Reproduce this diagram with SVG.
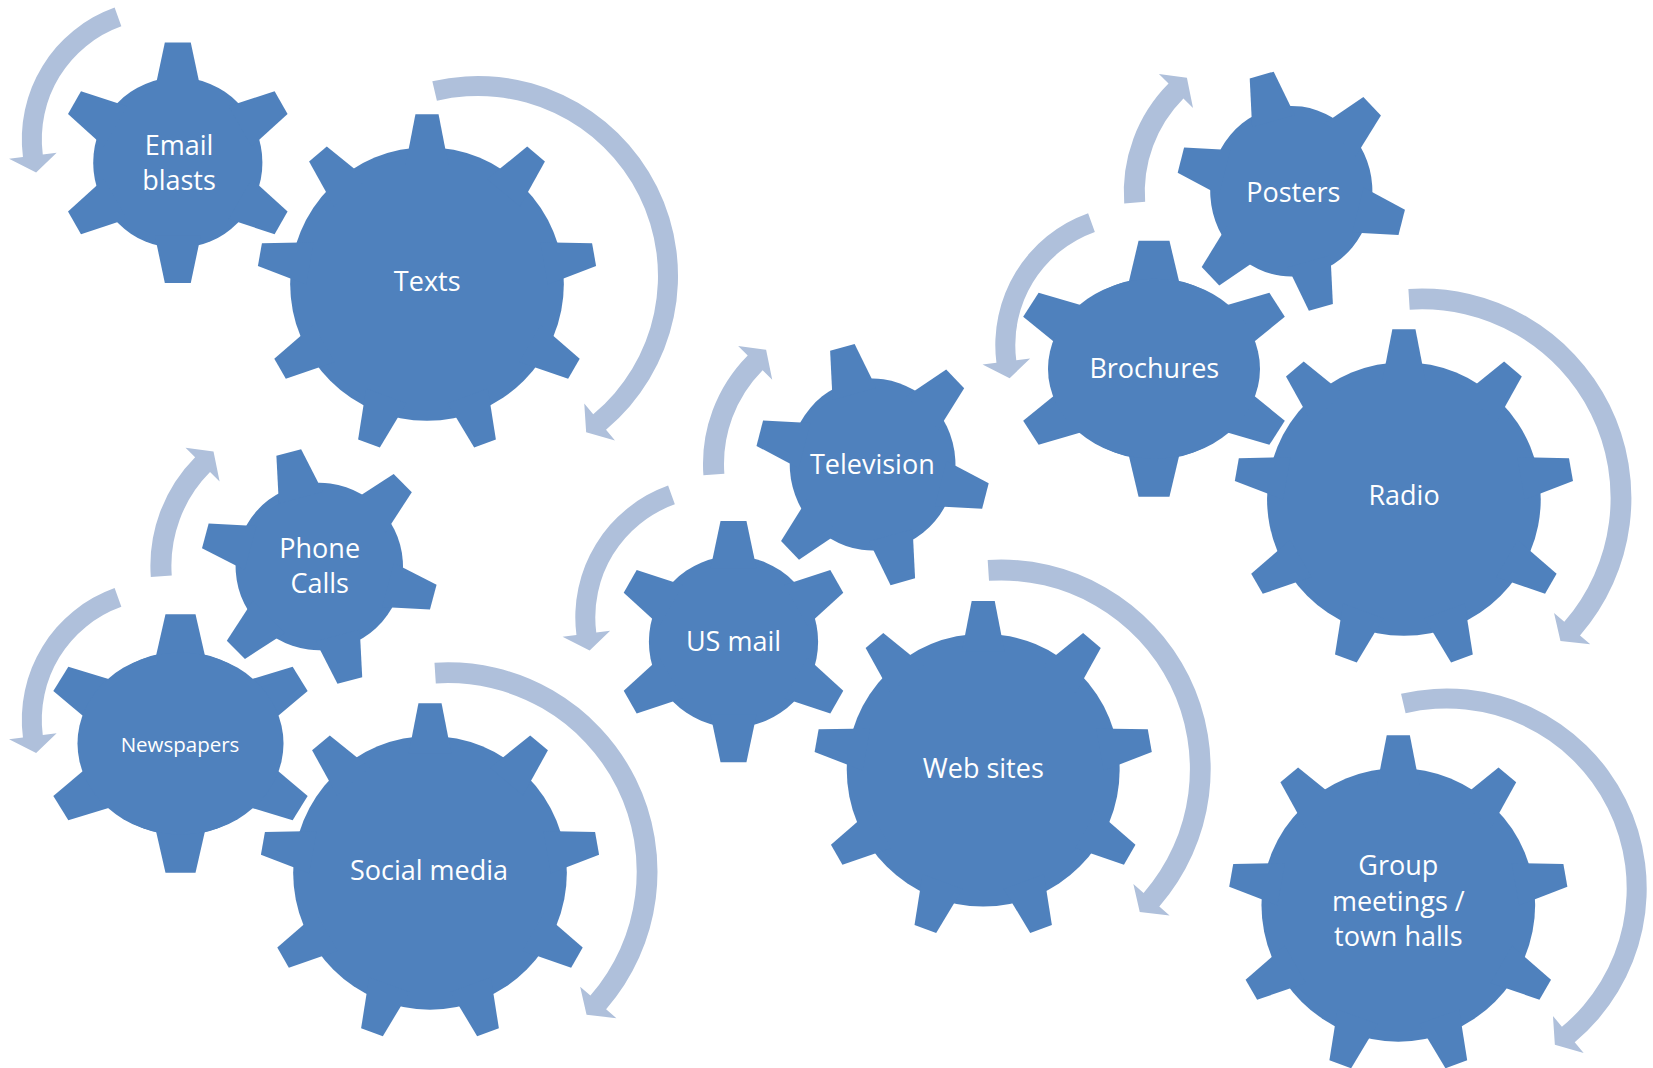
<svg xmlns="http://www.w3.org/2000/svg" width="1653" height="1068" viewBox="0 0 1653 1068">
<style>
.gear{fill:#4F81BD;stroke:none}
.halo{fill:#FFFFFF;stroke:#FFFFFF;stroke-width:3}
.arrow{fill:#AFC0DB;stroke:none}
.lbl{font-family:"Open Sans","Noto Sans","Liberation Sans",sans-serif;font-size:27px;fill:#FFFFFF;text-anchor:middle}
.sm{font-size:20.5px}
</style>
<defs>
<path id="t6" vector-effect="non-scaling-stroke" d="M-19.2,-60 L-10.8,-99.4 L10.8,-99.4 L19.2,-60Z"/>
<g id="g6">
<circle r="70.5" vector-effect="non-scaling-stroke"/>
<use href="#t6"/>
<use href="#t6" transform="rotate(60)"/>
<use href="#t6" transform="rotate(120)"/>
<use href="#t6" transform="rotate(180)"/>
<use href="#t6" transform="rotate(240)"/>
<use href="#t6" transform="rotate(300)"/>
</g>
<path id="t9" vector-effect="non-scaling-stroke" d="M-12.6,-70 L-6.8,-99.8 L6.8,-99.8 L12.6,-70Z"/>
<g id="g9">
<circle r="80.5" vector-effect="non-scaling-stroke"/>
<use href="#t9"/>
<use href="#t9" transform="rotate(40)"/>
<use href="#t9" transform="rotate(80)"/>
<use href="#t9" transform="rotate(120)"/>
<use href="#t9" transform="rotate(160)"/>
<use href="#t9" transform="rotate(200)"/>
<use href="#t9" transform="rotate(240)"/>
<use href="#t9" transform="rotate(280)"/>
<use href="#t9" transform="rotate(320)"/>
</g>
<path id="aB" d="M-13.52,-209.06 A209.5 209.5 0 0 1 158.11,137.44 L168.38,146.37 L138.56,142.98 L132.15,114.88 L142.41,123.80 A188.7 188.7 0 0 0 -12.18,-188.31 Z"/>
<path id="aT" d="M-45.67,-194.72 A200 200 0 0 1 128.02,153.66 L136.98,164.41 L108.16,156.21 L106.26,127.53 L115.22,138.29 A180 180 0 0 0 -41.10,-175.24 Z"/>
<path id="aM" d="M-47.19,-131.81 A140 140 0 0 0 -138.87,17.79 L-152.75,19.57 L-125.69,33.21 L-105.14,13.47 L-119.03,15.25 A120 120 0 0 1 -40.45,-112.98 Z"/>
<path id="aS" d="M-153.59,11.28 A154 154 0 0 1 -109.27,-108.51 L-118.85,-118.03 L-90.89,-114.26 L-84.79,-84.20 L-94.37,-93.72 A133 133 0 0 0 -132.64,9.74 Z"/>
</defs>
<rect width="1653" height="1068" fill="#FFFFFF"/>

<g id="connectors" class="arrow">
<use href="#aM" transform="translate(161.8,139.3)"/>
<use href="#aT" transform="translate(478,276)"/>
<use href="#aS" transform="translate(304.4,565.8)"/>
<use href="#aM" transform="translate(161.8,719.8)"/>
<use href="#aB" transform="translate(448,871.8)"/>
<use href="#aS" transform="translate(857,464)"/>
<use href="#aM" transform="translate(715.3,617.3)"/>
<use href="#aB" transform="translate(1001.2,769.1)"/>
<use href="#aS" transform="translate(1277.8,192.1)"/>
<use href="#aM" transform="translate(1135.3,345)"/>
<use href="#aB" transform="translate(1421.9,498)"/>
<use href="#aT" transform="translate(1446.7,888.5)"/>
</g>

<g id="node-email-blasts">
<use href="#g6" class="halo" transform="translate(177.8,162.7) scale(1.2,1.21)"/>
<use href="#g6" class="gear" transform="translate(177.8,162.7) scale(1.2,1.21)"/>
<text class="lbl" x="179" y="155">Email</text>
<text class="lbl" x="179" y="190">blasts</text>
</g>
<g id="node-newspapers">
<use href="#g6" class="halo" transform="translate(180.5,743.5) scale(1.39,1.3)"/>
<use href="#g6" class="gear" transform="translate(180.5,743.5) scale(1.39,1.3)"/>
<ellipse class="gear" cx="180.5" cy="743.5" rx="103" ry="91"/>
<text class="lbl sm" x="180" y="751.5">Newspapers</text>
</g>
<g id="node-us-mail">
<use href="#g6" class="halo" transform="translate(733.5,641.7) scale(1.2,1.214)"/>
<use href="#g6" class="gear" transform="translate(733.5,641.7) scale(1.2,1.214)"/>
<text class="lbl" x="733.5" y="650.5">US mail</text>
</g>
<g id="node-brochures">
<use href="#g6" class="halo" transform="translate(1154,368.8) scale(1.43,1.288)"/>
<use href="#g6" class="gear" transform="translate(1154,368.8) scale(1.43,1.288)"/>
<ellipse class="gear" cx="1154" cy="368.8" rx="106" ry="90"/>
<text class="lbl" x="1154.3" y="378.3">Brochures</text>
</g>
<g id="node-phone-calls">
<use href="#g6" class="halo" transform="translate(319.3,566.5) scale(1.187,1.187) rotate(-15)"/>
<use href="#g6" class="gear" transform="translate(319.3,566.5) scale(1.187,1.187) rotate(-15)"/>
<text class="lbl" x="319.7" y="558.3">Phone</text>
<text class="lbl" x="319.7" y="593.3">Calls</text>
</g>
<g id="node-television">
<use href="#g6" class="halo" transform="translate(872.6,464.6) scale(1.175,1.22) rotate(-15)"/>
<use href="#g6" class="gear" transform="translate(872.6,464.6) scale(1.175,1.22) rotate(-15)"/>
<text class="lbl" x="872.3" y="474">Television</text>
</g>
<g id="node-posters">
<use href="#g6" class="halo" transform="translate(1291.3,191.2) scale(1.15,1.21) rotate(-15)"/>
<use href="#g6" class="gear" transform="translate(1291.3,191.2) scale(1.15,1.21) rotate(-15)"/>
<text class="lbl" x="1293.3" y="201.7">Posters</text>
</g>
<g id="node-texts">
<use href="#g9" class="halo" transform="translate(427,284) scale(1.7)"/>
<use href="#g9" class="gear" transform="translate(427,284) scale(1.7)"/>
<text class="lbl" x="427.2" y="290.7">Texts</text>
</g>
<g id="node-social-media">
<use href="#g9" class="halo" transform="translate(430,872.8) scale(1.7)"/>
<use href="#g9" class="gear" transform="translate(430,872.8) scale(1.7)"/>
<text class="lbl" x="429" y="880">Social media</text>
</g>
<g id="node-web-sites">
<use href="#g9" class="halo" transform="translate(983.2,770.1) scale(1.695)"/>
<use href="#g9" class="gear" transform="translate(983.2,770.1) scale(1.695)"/>
<text class="lbl" x="983.3" y="777.7">Web sites</text>
</g>
<g id="node-radio">
<use href="#g9" class="halo" transform="translate(1403.9,499) scale(1.7)"/>
<use href="#g9" class="gear" transform="translate(1403.9,499) scale(1.7)"/>
<text class="lbl" x="1404" y="505">Radio</text>
</g>
<g id="node-group-meetings">
<use href="#g9" class="halo" transform="translate(1398.3,904.9) scale(1.7)"/>
<use href="#g9" class="gear" transform="translate(1398.3,904.9) scale(1.7)"/>
<text class="lbl" x="1398.3" y="875">Group</text>
<text class="lbl" x="1398.3" y="910.5">meetings /</text>
<text class="lbl" x="1398.3" y="946">town halls</text>
</g>
</svg>
